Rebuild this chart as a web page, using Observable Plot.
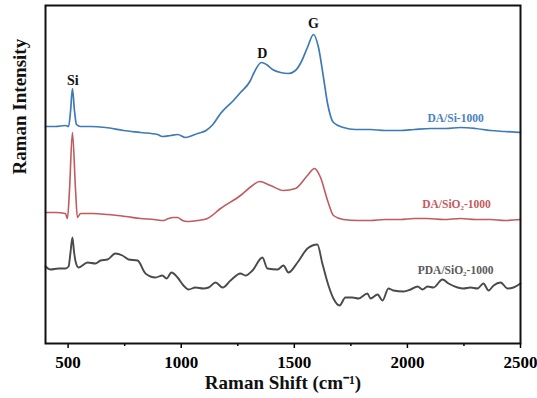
<!DOCTYPE html>
<html>
<head>
<meta charset="utf-8">
<script src="https://cdn.jsdelivr.net/npm/d3@7"></script>
<script src="https://cdn.jsdelivr.net/npm/@observablehq/plot@0.6"></script>
<style>
  html, body { margin: 0; padding: 0; background: #fff; }
  #chart svg { display: block; }
</style>
</head>
<body>
<div id="chart"></div>
<script>
// Raman spectra of carbonised dopamine films (Raman shift in cm-1, intensity in a.u., offset per trace)
const siShift = [400, 444, 488, 502, 511, 519, 528, 537, 555, 599, 665, 745, 820, 895, 917, 953, 984, 1019, 1072, 1110, 1140, 1174, 1231, 1262, 1306, 1320, 1355, 1377, 1404, 1439, 1474, 1505, 1527, 1558, 1585, 1607, 1629, 1647, 1673, 1717, 1770, 1837, 1900, 1969, 2030, 2102, 2170, 2235, 2300, 2367, 2430, 2500];
const siIntensity = [217, 217, 218, 217, 233, 255, 233, 219, 217, 217, 216, 213, 211, 209, 207, 208, 209, 206, 210, 213, 219, 230, 243, 251, 263, 270, 281, 279, 274, 271, 270, 273, 280, 296, 309, 296, 266, 240, 221, 216, 214, 214, 213, 213, 214, 215, 215, 216, 215, 213, 212, 211];

const sio2Shift = [400, 444, 488, 497, 506, 519, 533, 541, 555, 610, 674, 754, 820, 880, 922, 944, 961, 984, 1006, 1028, 1072, 1116, 1174, 1262, 1315, 1346, 1395, 1452, 1505, 1558, 1589, 1616, 1647, 1673, 1717, 1780, 1837, 1900, 1969, 2030, 2089, 2160, 2235, 2300, 2367, 2430, 2500];
const sio2Intensity = [131, 131, 130, 125, 153, 211, 153, 126, 130, 130, 129, 127, 125, 124, 123, 125, 126, 126, 123, 122, 123, 125, 135, 148, 158, 162, 158, 153, 155, 168, 175, 166, 143, 128, 124, 123, 123, 124, 124, 125, 125, 124, 125, 124, 124, 123, 124];

const pdaShift = [400, 422, 457, 488, 502, 510, 519, 526, 533, 546, 586, 621, 643, 674, 709, 740, 767, 807, 842, 886, 917, 935, 957, 984, 1010, 1032, 1063, 1098, 1121, 1152, 1183, 1218, 1262, 1284, 1315, 1359, 1381, 1426, 1452, 1474, 1514, 1558, 1580, 1602, 1624, 1651, 1673, 1700, 1726, 1757, 1784, 1823, 1837, 1868, 1890, 1916, 1938, 1983, 2014, 2045, 2067, 2089, 2115, 2155, 2182, 2222, 2248, 2279, 2310, 2336, 2359, 2381, 2412, 2443, 2469, 2500];
const pdaIntensity = [77, 74, 75, 75, 77, 90, 106, 92, 82, 76, 81, 80, 83, 84, 90, 88, 84, 83, 70, 66, 68, 65, 71, 66, 58, 54, 56, 55, 56, 61, 56, 63, 70, 68, 73, 86, 75, 74, 78, 71, 81, 95, 98, 99, 80, 58, 45, 38, 46, 46, 45, 50, 45, 49, 43, 55, 53, 52, 54, 57, 54, 57, 56, 64, 60, 56, 55, 56, 55, 60, 53, 58, 61, 55, 56, 60];

const seriesNames = ["DA/Si-1000", "DA/SiO\u2082-1000", "PDA/SiO\u2082-1000"];
const seriesColors = ["#3d7ab8", "#c05a5e", "#4a4a4a"];
const seriesWidths = [1.7, 1.6, 1.9];
const labelColors = ["#4a82c2", "#c45a60", "#5a5a5a"];
const seriesLabelShift = [2213, 2217, 2213];
const seriesLabelIntensity = [225, 139, 73];

const peakNames = ["Si", "D", "G"];
const peakShift = [521, 1359, 1585];
const peakLabelIntensity = [263, 290, 320];

const majorTicks = [500, 1000, 1500, 2000, 2500];
const minorTicks = [750, 1250, 1750, 2250];

const traces = [
  [siShift, siIntensity],
  [sio2Shift, sio2Intensity],
  [pdaShift, pdaIntensity]
];
const seriesLabels = seriesNames.map((name, k) => ({
  name, shift: seriesLabelShift[k], intensity: seriesLabelIntensity[k], color: labelColors[k]
}));
const peakLabels = peakNames.map((name, k) => ({name, shift: peakShift[k], intensity: peakLabelIntensity[k]}));

const serif = "'Liberation Serif', 'Times New Roman', serif";

// one line mark per spectrum
const lineMarks = traces.map(([xs, ys], k) =>
  Plot.line(xs.map((x, i) => ({shift: x, intensity: ys[i]})), {
    x: "shift", y: "intensity",
    stroke: seriesColors[k], strokeWidth: seriesWidths[k], curve: "monotone-x"
  }));

const chart = Plot.plot({
  width: 537,
  height: 398,
  marginLeft: 45,
  marginRight: 17,
  marginTop: 5,
  marginBottom: 55,
  style: {fontFamily: serif, background: "#fff"},
  x: {domain: [400, 2500]},
  y: {domain: [0, 338], axis: null},
  marks: [
    ...lineMarks,
    Plot.text(peakLabels, {
      x: "shift", y: "intensity", text: "name",
      fontSize: 14, fontWeight: "bold", fill: "#111"
    }),
    Plot.text(seriesLabels, {
      x: "shift", y: "intensity", text: "name", fill: "color",
      fontSize: 11.5, fontWeight: "bold"
    }),
    Plot.axisX({
      ticks: majorTicks, tickFormat: d => String(d), tickSize: 5, tickPadding: 7,
      fontSize: 17, fontWeight: "bold", label: null, strokeWidth: 1.5
    }),
    Plot.axisX({ticks: minorTicks, tickSize: 3, text: null, label: null, strokeWidth: 1.5}),
    Plot.text(["Raman Shift (cm\u207B\u00B9)"], {
      frameAnchor: "bottom", dy: 45, text: d => d,
      fontSize: 19, fontWeight: "bold", fill: "#111"
    }),
    Plot.text(["Raman Intensity"], {
      frameAnchor: "left", dx: -26, rotate: -90, text: d => d,
      fontSize: 19, fontWeight: "bold", fill: "#111"
    }),
    Plot.frame({stroke: "#111", strokeWidth: 2})
  ]
});

document.getElementById("chart").appendChild(chart);
</script>
</body>
</html>
